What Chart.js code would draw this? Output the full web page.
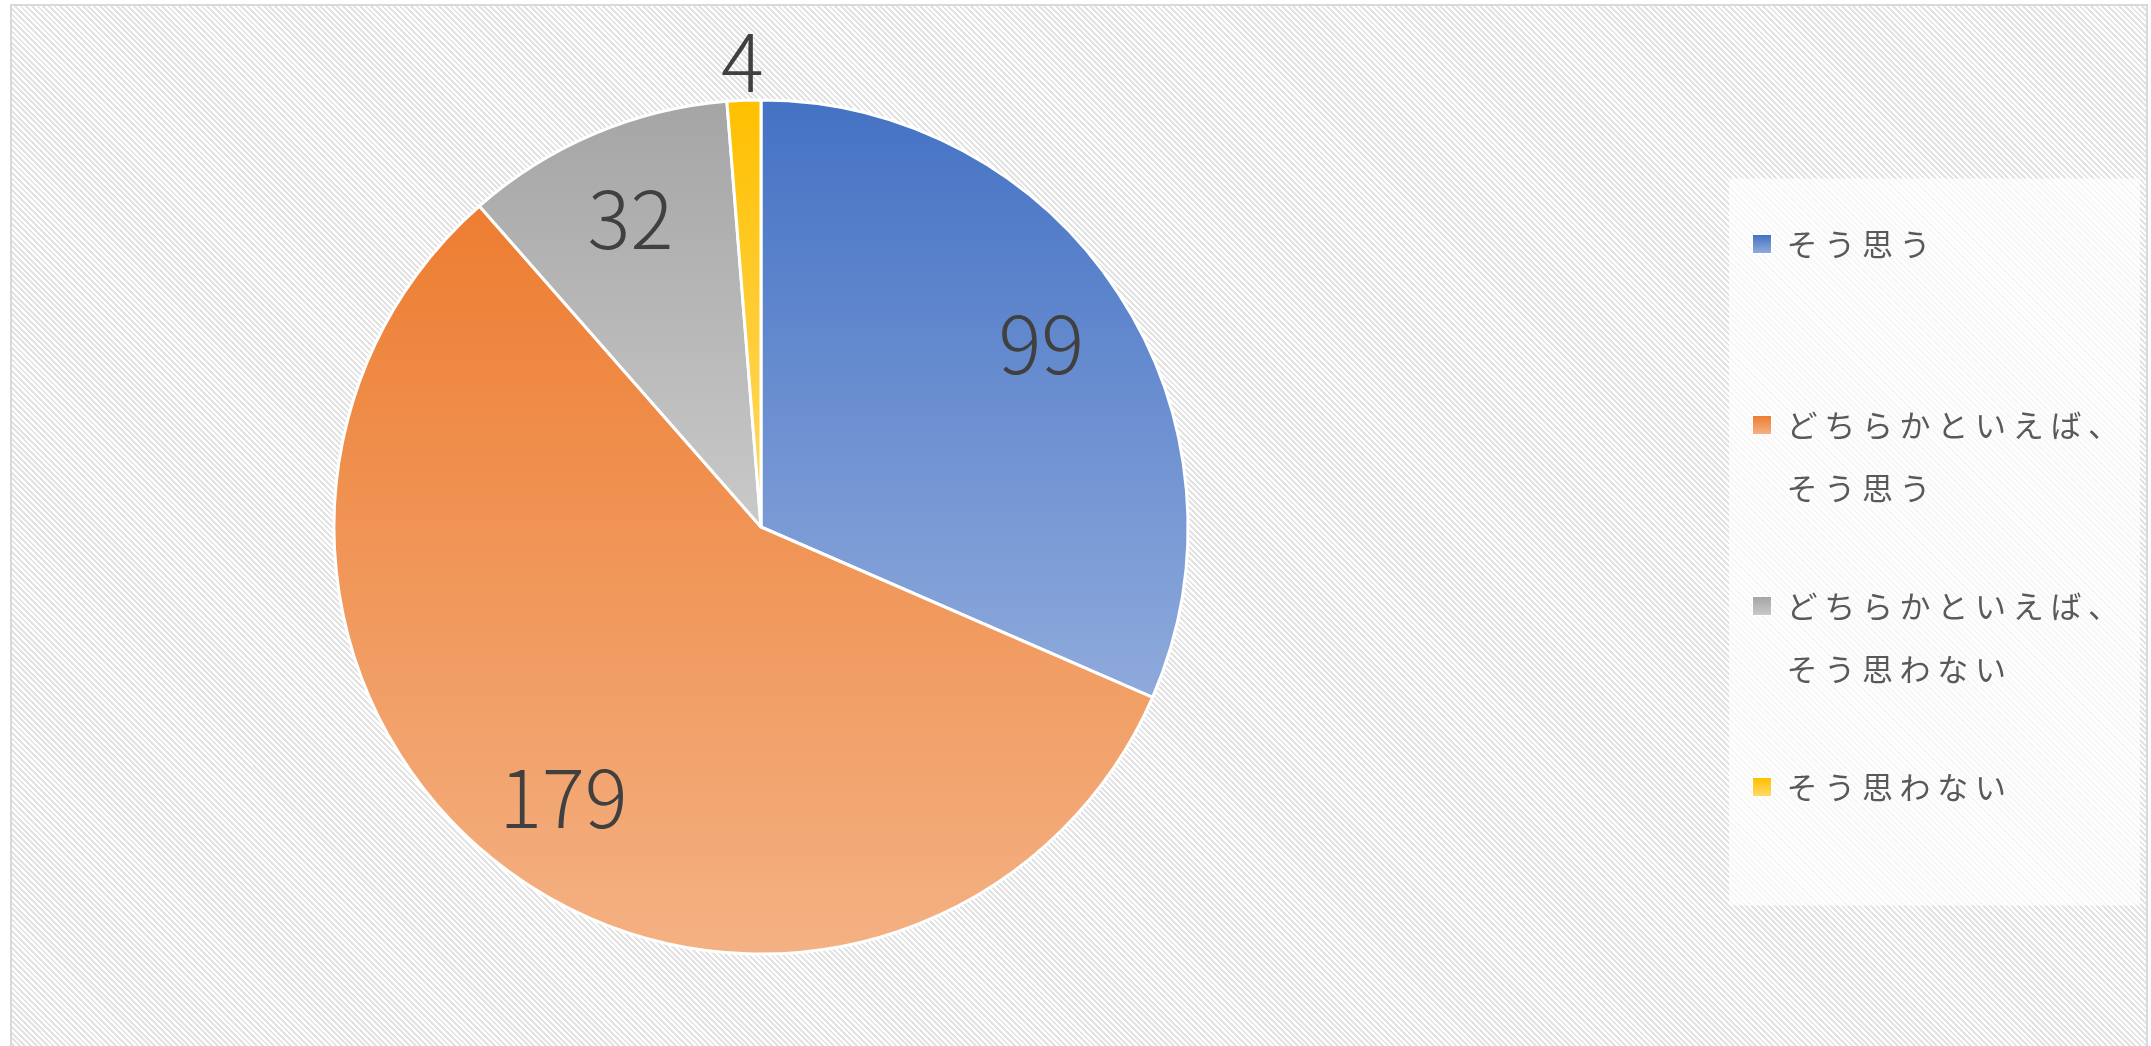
<!DOCTYPE html>
<html lang="ja">
<head>
<meta charset="utf-8">
<title>pie</title>
<script src="https://cdn.jsdelivr.net/npm/chart.js@4.4.1/dist/chart.umd.min.js"></script>
<style>
  html, body { margin: 0; padding: 0; background: #fff; overflow: hidden; }
  #frame {
    position: absolute; left: 10px; top: 4px; width: 2138px; height: 1100px;
    box-sizing: border-box; border: 2px solid #d9d9d9;
    background: repeating-linear-gradient(45deg, #e3e3e3 0px, #e3e3e3 2px, #ffffff 2px, #ffffff 4px);
  }
  #chart { position: absolute; left: 0; top: 0; }
</style>
</head>
<body>
<div id="frame"></div>
<canvas id="chart" width="2151" height="1046"></canvas>
<script>
const categories = ['そう思う', 'どちらかといえば、そう思う', 'どちらかといえば、そう思わない', 'そう思わない'];
const counts = [99, 179, 32, 4];
const topColors = ['#4472C4', '#ED7D31', '#A5A5A5', '#FFC000'];
const bottomColors = ['#8FAADC', '#F4B183', '#C9C9C9', '#FFD966'];

const PIE_RADIUS = 427;
const SPACING = '6.7px';
const LEGEND_FONT = { family: '"Noto Sans CJK JP", sans-serif', size: 31, lineHeight: '63px' };
const LEGEND_PAD = 55;
const BOX = 18;
const LEGEND_LEFT = 1698; // where the legend block should begin

// vertical gradient spanning each slice's own bounding box
function sliceGradient(context) {
  const i = context.dataIndex;
  const chart = context.chart;
  const area = chart.chartArea;
  if (i === undefined || !area) return topColors[0];
  const cy = (area.top + area.bottom) / 2;
  const total = counts.reduce((a, b) => a + b, 0);
  const before = counts.slice(0, i).reduce((a, b) => a + b, 0);
  const a0 = -Math.PI / 2 + before / total * Math.PI * 2;
  const a1 = a0 + counts[i] / total * Math.PI * 2;
  const ys = [cy, cy + PIE_RADIUS * Math.sin(a0), cy + PIE_RADIUS * Math.sin(a1)];
  [-Math.PI / 2, Math.PI / 2, Math.PI * 1.5].forEach(a => {
    if (a > a0 && a < a1) ys.push(cy + PIE_RADIUS * Math.sin(a));
  });
  const g = chart.ctx.createLinearGradient(0, Math.min(...ys), 0, Math.max(...ys));
  g.addColorStop(0, topColors[i]);
  g.addColorStop(1, bottomColors[i]);
  return g;
}

// small gradient squares for the legend
const swatches = topColors.map((c, i) => {
  const cv = document.createElement('canvas');
  cv.width = BOX + 2;
  cv.height = BOX + 2;
  const x = cv.getContext('2d');
  x.fillStyle = '#ffffff';
  x.fillRect(0, 0, BOX + 2, BOX + 2);
  const g = x.createLinearGradient(0, 1, 0, BOX + 1);
  g.addColorStop(0, c);
  g.addColorStop(1, bottomColors[i]);
  x.fillStyle = g;
  x.fillRect(1, 1, BOX, BOX);
  return cv;
});

// legend text wraps after the comma, every entry takes two lines
function legendLines(label) {
  const k = label.indexOf('、');
  return k < 0 ? [label, ''] : [label.slice(0, k + 1), label.slice(k + 1)];
}

// width the legend box will ask for, so the right padding can put it at LEGEND_LEFT
function legendWidth() {
  const c = document.createElement('canvas').getContext('2d');
  c.font = LEGEND_FONT.size + 'px ' + LEGEND_FONT.family;
  c.letterSpacing = SPACING;
  let w = 0;
  categories.forEach(cat => {
    const longest = legendLines(cat).reduce((a, b) => a.length > b.length ? a : b);
    w = Math.max(w, c.measureText(longest).width);
  });
  return LEGEND_PAD + BOX + LEGEND_FONT.size / 2 + w + 10;
}
const rightPad = Math.max(0, 2151 - LEGEND_LEFT - legendWidth());

const letterSpacing = {
  id: 'letterSpacing',
  beforeLayout(chart) { chart.ctx.letterSpacing = SPACING; },
  beforeDraw(chart) { chart.ctx.letterSpacing = SPACING; }
};

const legendPanel = {
  id: 'legendPanel',
  beforeDraw(chart) {
    const lg = chart.legend;
    const hb = lg && lg.legendHitBoxes;
    if (!hb || !hb.length) return;
    const ctx = chart.ctx;
    ctx.save();
    ctx.fillStyle = 'rgba(255,255,255,0.72)';
    ctx.fillRect(lg.left + 31, hb[0].top - 50, 411, 727);
    ctx.restore();
  }
};

const sliceLabels = {
  id: 'sliceLabels',
  afterDatasetsDraw(chart) {
    const ctx = chart.ctx;
    const meta = chart.getDatasetMeta(0);
    ctx.save();
    ctx.letterSpacing = '0px';
    ctx.font = '300 80px "Noto Sans CJK JP", sans-serif';
    ctx.fillStyle = '#404040';
    ctx.textAlign = 'center';
    ctx.textBaseline = 'middle';
    meta.data.forEach((arc, i) => {
      const p = arc.getProps(['x', 'y', 'startAngle', 'endAngle', 'outerRadius'], true);
      const mid = (p.startAngle + p.endAngle) / 2;
      // thin slices get their label outside the pie
      const f = (p.endAngle - p.startAngle) < 0.3 ? 1.09 : 0.785;
      ctx.fillText(String(counts[i]),
        p.x + Math.cos(mid) * p.outerRadius * f,
        p.y + Math.sin(mid) * p.outerRadius * f);
    });
    ctx.restore();
  }
};

new Chart(document.getElementById('chart'), {
  type: 'pie',
  data: {
    labels: categories,
    datasets: [{
      data: counts,
      backgroundColor: sliceGradient,
      borderColor: '#ffffff',
      borderWidth: 3,
      hoverOffset: 0,
      radius: PIE_RADIUS
    }]
  },
  options: {
    responsive: false,
    animation: false,
    devicePixelRatio: 1,
    layout: { padding: { left: 0, top: 8, right: rightPad, bottom: 0 } },
    plugins: {
      tooltip: { enabled: false },
      // empty title used as a gap between the pie and the legend
      title: {
        display: true, text: '', position: 'right', weight: 500, padding: 0,
        font: { size: 1, lineHeight: '176px' }
      },
      legend: {
        position: 'right',
        align: 'start',
        title: { display: true, text: '', padding: 0, font: { size: 1, lineHeight: '165.5px' } },
        labels: {
          usePointStyle: true,
          boxWidth: BOX,
          boxHeight: BOX,
          padding: LEGEND_PAD,
          color: '#595959',
          font: LEGEND_FONT,
          generateLabels: () => categories.map((c, i) => ({
            text: legendLines(c),
            fillStyle: topColors[i],
            strokeStyle: 'rgba(0,0,0,0)',
            lineWidth: 0,
            pointStyle: swatches[i],
            fontColor: '#595959',
            hidden: false,
            index: i,
            datasetIndex: 0
          }))
        }
      }
    }
  },
  plugins: [letterSpacing, legendPanel, sliceLabels]
});
</script>
</body>
</html>
